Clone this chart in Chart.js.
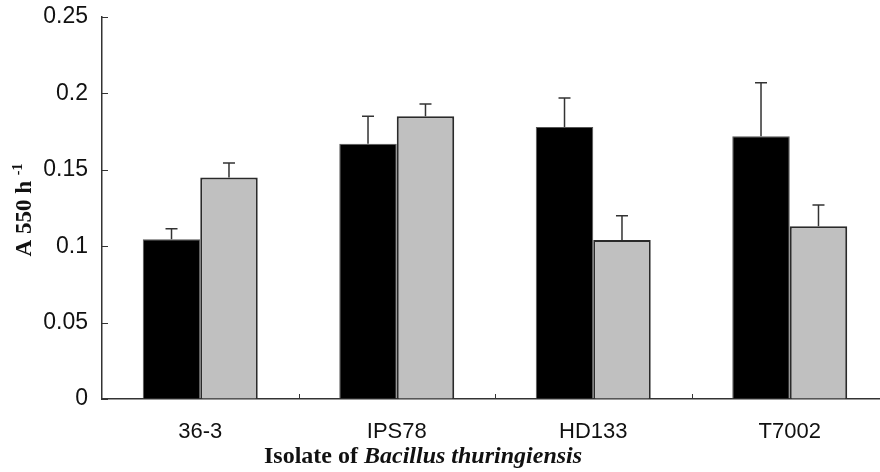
<!DOCTYPE html>
<html>
<head>
<meta charset="utf-8">
<script src="https://cdn.jsdelivr.net/npm/chart.js@4/dist/chart.umd.min.js"></script>
<style>
    html, body { margin: 0; padding: 0; background: #fff; overflow: hidden; }
    #wrap { width: 888px; height: 472px; }
</style>
</head>
<body>
<div id="wrap"><canvas id="chart"></canvas></div>
<script>
// data
var isolates = ["36-3", "IPS78", "HD133", "T7002"];
var blackValues = [0.1045, 0.167, 0.178, 0.172];
var blackErrors = [0.007, 0.018, 0.019, 0.035];
var greyValues = [0.145, 0.185, 0.104, 0.113];
var greyErrors = [0.0095, 0.008, 0.016, 0.014];
var yTicks = [0, 0.05, 0.1, 0.15, 0.2, 0.25];

var errorSets = [blackErrors, greyErrors];

// upper error bars with a cap
var errorBarPlugin = {
    id: "errorBars",
    afterDatasetsDraw: function (chart) {
        let ctx = chart.ctx;
        let yScale = chart.scales.y;
        ctx.save();
        ctx.strokeStyle = "#333";
        ctx.lineWidth = 1.5;
        chart.data.datasets.forEach(function (ds, di) {
            let meta = chart.getDatasetMeta(di);
            meta.data.forEach(function (bar, i) {
                let top = yScale.getPixelForValue(ds.data[i] + errorSets[di][i]);
                ctx.beginPath();
                ctx.moveTo(bar.x, bar.y);
                ctx.lineTo(bar.x, top);
                ctx.moveTo(bar.x - 6, top);
                ctx.lineTo(bar.x + 6, top);
                ctx.stroke();
            });
        });
        ctx.restore();
    },
};

// inward tick marks and the axis titles
var axisDecorPlugin = {
    id: "axisDecor",
    afterDraw: function (chart) {
        let ctx = chart.ctx;
        let area = chart.chartArea;
        let yScale = chart.scales.y;
        ctx.save();
        ctx.strokeStyle = "#333";
        ctx.lineWidth = 1;
        // y ticks pointing into the plot
        yTicks.forEach(function (v) {
            let py = Math.round(yScale.getPixelForValue(v)) + 0.5;
            ctx.beginPath();
            ctx.moveTo(area.left, py);
            ctx.lineTo(area.left + 6, py);
            ctx.stroke();
        });
        // x ticks between categories pointing up
        let step = (area.right - area.left) / isolates.length;
        for (let i = 1; i < isolates.length; i++) {
            let px = Math.round(area.left + step * i) + 0.5;
            ctx.beginPath();
            ctx.moveTo(px, area.bottom);
            ctx.lineTo(px, area.bottom - 5);
            ctx.stroke();
        }

        ctx.fillStyle = "#111";
        // y title, rotated, with superscript
        ctx.save();
        ctx.translate(31, 210);
        ctx.rotate(-Math.PI / 2);
        ctx.textBaseline = "alphabetic";
        ctx.font = "bold 23px 'Liberation Serif'";
        let mainText = "A 550 h ";
        let supText = "-1";
        let w1 = ctx.measureText(mainText).width;
        ctx.font = "bold 14px 'Liberation Serif'";
        let w2 = ctx.measureText(supText).width;
        let startX = -(w1 + w2) / 2;
        ctx.font = "bold 23px 'Liberation Serif'";
        ctx.fillText(mainText, startX, 0);
        ctx.font = "bold 14px 'Liberation Serif'";
        ctx.fillText(supText, startX + w1, -9);
        ctx.restore();

        // x title, part italic
        ctx.textBaseline = "alphabetic";
        ctx.font = "bold 24px 'Liberation Serif'";
        let part1 = "Isolate of ";
        let p1w = ctx.measureText(part1).width;
        ctx.fillText(part1, 264, 463);
        ctx.font = "italic bold 24px 'Liberation Serif'";
        ctx.fillText("Bacillus thuringiensis", 264 + p1w, 463);
        ctx.restore();
    },
};

var chart = new Chart(document.getElementById("chart"), {
    type: "bar",
    data: {
        labels: isolates,
        datasets: [
            {
                data: blackValues,
                backgroundColor: "#000",
                borderColor: "#555",
                borderWidth: 1,
            },
            {
                data: greyValues,
                backgroundColor: "#c0c0c0",
                borderColor: "#2a2a2a",
                borderWidth: 2,
            },
        ],
    },
    options: {
        responsive: true,
        maintainAspectRatio: false,
        animation: false,
        layout: {
            padding: { top: 17, right: 0, bottom: 0, left: 0 },
        },
        datasets: {
            bar: {
                barPercentage: 1,
                categoryPercentage: 0.585,
            },
        },
        plugins: {
            legend: { display: false },
            tooltip: { enabled: false },
        },
        scales: {
            x: {
                grid: { display: true, color: "transparent", drawOnChartArea: false, drawTicks: false },
                border: { display: true, color: "#333", width: 1.5 },
                ticks: {
                    color: "#111",
                    padding: 20,
                    font: { family: "'Liberation Sans'", size: 22 },
                },
                afterFit: function (scale) {
                    scale.height = 73;
                },
            },
            y: {
                min: 0,
                max: 0.25,
                afterBuildTicks: function (scale) {
                    scale.ticks = yTicks.map(function (v) {
                        return { value: v };
                    });
                },
                grid: { display: true, color: "transparent", drawOnChartArea: false, drawTicks: false },
                border: { display: true, color: "#333", width: 1.5 },
                ticks: {
                    color: "#111",
                    padding: 14,
                    font: { family: "'Liberation Sans'", size: 23 },
                    callback: function (v) {
                        return String(v);
                    },
                },
                afterFit: function (scale) {
                    scale.width = 102;
                    scale.paddingTop = 0;
                    scale.paddingBottom = 0;
                },
            },
        },
    },
    plugins: [errorBarPlugin, axisDecorPlugin],
});
</script>
</body>
</html>
